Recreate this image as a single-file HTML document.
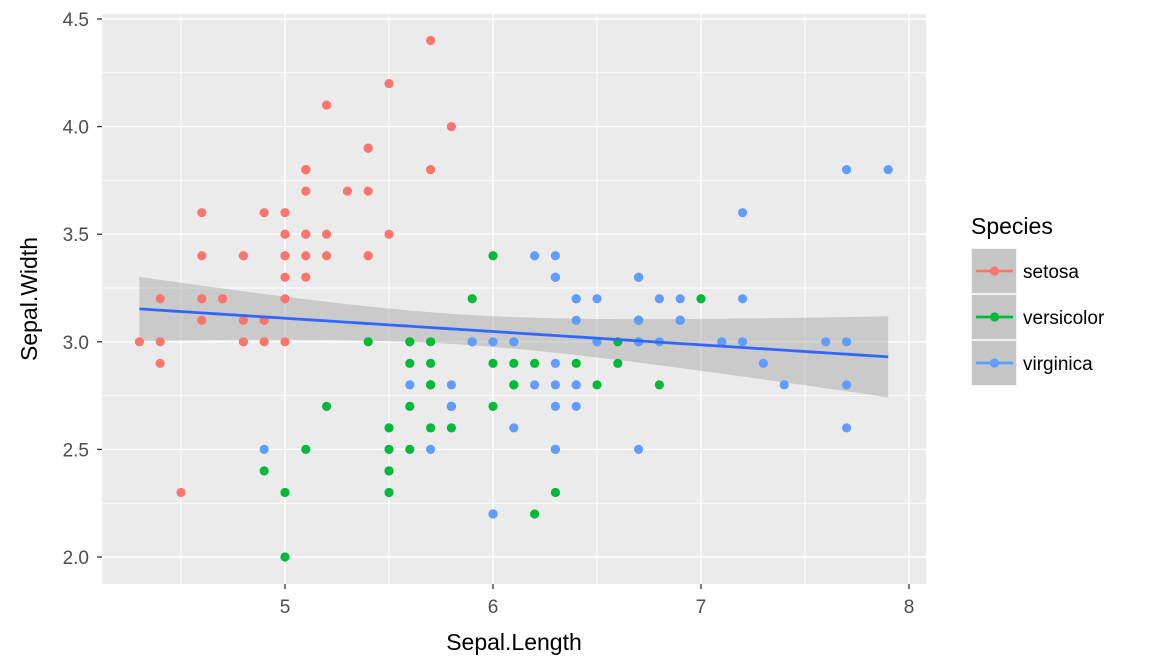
<!DOCTYPE html>
<html><head><meta charset="utf-8"><style>
body{margin:0;background:#fff;}
svg{display:block;font-family:"Liberation Sans",Arial,sans-serif;}
</style></head><body>
<svg id="chart" width="1152" height="672" viewBox="0 0 1152 672" xmlns="http://www.w3.org/2000/svg">
<rect x="102" y="14" width="824" height="570" fill="#ebebeb"/>
<g id="grid"></g>
<g id="band"></g>
<g id="points"></g>
<g id="axes"></g>
<text x="514" y="650" font-size="23" text-anchor="middle" fill="#000">Sepal.Length</text>
<text x="37" y="299" font-size="23" text-anchor="middle" fill="#000" transform="rotate(-90 37 299)">Sepal.Width</text>
<g>
<text x="971" y="234" font-size="23" fill="#000">Species</text>
<g id="legend"></g>
</g>
</svg>
<script>
const species=["setosa","versicolor","virginica"];
const colors=["#F8766D","#00BA38","#619CFF"];
const setosaSL=[5.1,4.9,4.7,4.6,5.0,5.4,4.6,5.0,4.4,4.9,5.4,4.8,4.8,4.3,5.8,5.7,5.4,5.1,5.7,5.1,5.4,5.1,4.6,5.1,4.8,5.0,5.0,5.2,5.2,4.7,4.8,5.4,5.2,5.5,4.9,5.0,5.5,4.9,4.4,5.1,5.0,4.5,4.4,5.0,5.1,4.8,5.1,4.6,5.3,5.0];
const setosaSW=[3.5,3.0,3.2,3.1,3.6,3.9,3.4,3.4,2.9,3.1,3.7,3.4,3.0,3.0,4.0,4.4,3.9,3.5,3.8,3.8,3.4,3.7,3.6,3.3,3.4,3.0,3.4,3.5,3.4,3.2,3.1,3.4,4.1,4.2,3.1,3.2,3.5,3.6,3.0,3.4,3.5,2.3,3.2,3.5,3.8,3.0,3.8,3.2,3.7,3.3];
const versicolorSL=[7.0,6.4,6.9,5.5,6.5,5.7,6.3,4.9,6.6,5.2,5.0,5.9,6.0,6.1,5.6,6.7,5.6,5.8,6.2,5.6,5.9,6.1,6.3,6.1,6.4,6.6,6.8,6.7,6.0,5.7,5.5,5.5,5.8,6.0,5.4,6.0,6.7,6.3,5.6,5.5,5.5,6.1,5.8,5.0,5.6,5.7,5.7,6.2,5.1,5.7];
const versicolorSW=[3.2,3.2,3.1,2.3,2.8,2.8,3.3,2.4,2.9,2.7,2.0,3.0,2.2,2.9,2.9,3.1,3.0,2.7,2.2,2.5,3.2,2.8,2.5,2.8,2.9,3.0,2.8,3.0,2.9,2.6,2.4,2.4,2.7,2.7,3.0,3.4,3.1,2.3,3.0,2.5,2.6,3.0,2.6,2.3,2.7,3.0,2.9,2.9,2.5,2.8];
const virginicaSL=[6.3,5.8,7.1,6.3,6.5,7.6,4.9,7.3,6.7,7.2,6.5,6.4,6.8,5.7,5.8,6.4,6.5,7.7,7.7,6.0,6.9,5.6,7.7,6.3,6.7,7.2,6.2,6.1,6.4,7.2,7.4,7.9,6.4,6.3,6.1,7.7,6.3,6.4,6.0,6.9,6.7,6.9,5.8,6.8,6.7,6.7,6.3,6.5,6.2,5.9];
const virginicaSW=[3.3,2.7,3.0,2.9,3.0,3.0,2.5,2.9,2.5,3.6,3.2,2.7,3.0,2.5,2.8,3.2,3.0,3.8,2.6,2.2,3.2,2.8,2.8,2.7,3.3,3.2,2.8,3.0,2.8,3.0,2.8,3.8,2.8,2.8,2.6,3.0,3.4,3.1,3.0,3.1,3.1,3.1,2.7,3.2,3.3,3.0,2.5,3.0,3.4,3.0];
const xTicks=[5,6,7,8];
const yTicks=[2.0,2.5,3.0,3.5,4.0,4.5];
const xMinor=[4.5,5.5,6.5,7.5];
const yMinor=[2.25,2.75,3.25,3.75,4.25];

const NS="http://www.w3.org/2000/svg";
const X=v=>285+(v-5)*208;
const Y=v=>557-(v-2)*215.2;
function mk(tag,attrs,parent){const e=document.createElementNS(NS,tag);for(const k in attrs)e.setAttribute(k,attrs[k]);parent.appendChild(e);return e;}
const grid=document.getElementById('grid'),axes=document.getElementById('axes');
xMinor.forEach(v=>{const l=mk('line',{x1:X(v),x2:X(v),y1:14,y2:584,stroke:'#fff','stroke-width':0.9},grid);

});
yMinor.forEach(v=>{const l=mk('line',{x1:102,x2:926,y1:Y(v),y2:Y(v),stroke:'#fff','stroke-width':0.9},grid);

});
xTicks.forEach(v=>{const l=mk('line',{x1:X(v),x2:X(v),y1:14,y2:584,stroke:'#fff','stroke-width':1.4},grid);


const t=mk('line',{x1:X(v),x2:X(v),y1:584,y2:589,stroke:'#333','stroke-width':1.3},axes);


const tx=mk('text',{x:X(v),y:613,'font-size':19,fill:'#4d4d4d','text-anchor':'middle'},axes);tx.textContent=v;

});
yTicks.forEach(v=>{const l=mk('line',{x1:102,x2:926,y1:Y(v),y2:Y(v),stroke:'#fff','stroke-width':1.4},grid);


const t=mk('line',{x1:97,x2:102,y1:Y(v),y2:Y(v),stroke:'#333','stroke-width':1.3},axes);


const tx=mk('text',{x:89,y:Y(v)+7,'font-size':19,fill:'#4d4d4d','text-anchor':'end'},axes);tx.textContent=v.toFixed(1);

});

const pts=document.getElementById('points');
const allSL=[].concat(setosaSL,versicolorSL,virginicaSL),allSW=[].concat(setosaSW,versicolorSW,virginicaSW);
[[setosaSL,setosaSW],[versicolorSL,versicolorSW],[virginicaSL,virginicaSW]].forEach((s,i)=>{
 s[0].forEach((v,j)=>{const c=mk('circle',{cx:X(v),cy:Y(s[1][j]),r:4.6,fill:colors[i]},pts);
 
 });
});
const n=allSL.length,mx=allSL.reduce((a,b)=>a+b)/n,my=allSW.reduce((a,b)=>a+b)/n;
let sxx=0,sxy=0;for(let i=0;i<n;i++){sxx+=(allSL[i]-mx)**2;sxy+=(allSL[i]-mx)*(allSW[i]-my);}
const b=sxy/sxx,a=my-b*mx;let sse=0;for(let i=0;i<n;i++)sse+=(allSW[i]-a-b*allSL[i])**2;
const s=Math.sqrt(sse/(n-2)),tq=1.976;
const xmin=Math.min(...allSL),xmax=Math.max(...allSL);
let up=[],lo=[],ln=[];
for(let k=0;k<=80;k++){const x=xmin+(xmax-xmin)*k/80,f=a+b*x,h=tq*s*Math.sqrt(1/n+(x-mx)**2/sxx);
 up.push(X(x)+','+Y(f+h));lo.unshift(X(x)+','+Y(f-h));ln.push(X(x)+','+Y(f));}
const band=document.getElementById('band');
const bp=mk('polygon',{points:up.concat(lo).join(' '),fill:'#999',opacity:0.4},band);


const rl=mk('polyline',{points:ln.join(' '),fill:'none',stroke:'#3366FF','stroke-width':2.8},pts);


const lg=document.getElementById('legend');
species.forEach((sp,i)=>{const y0=248+i*46;
 const g=mk('g',{},lg);
 
 
 mk('rect',{x:971,y:y0,width:46,height:46,fill:'#f2f2f2'},g);
 mk('rect',{x:972,y:y0+1,width:44,height:44,fill:'#c6c6c6'},g);
 mk('line',{x1:976,x2:1013,y1:y0+23,y2:y0+23,stroke:colors[i],'stroke-width':2.8},g);
 mk('circle',{cx:994.5,cy:y0+23,r:4.6,fill:colors[i]},g);
 const t=mk('text',{x:1023,y:y0+30,'font-size':19,fill:'#000'},g);t.textContent=sp;});
</script>
</body></html>
